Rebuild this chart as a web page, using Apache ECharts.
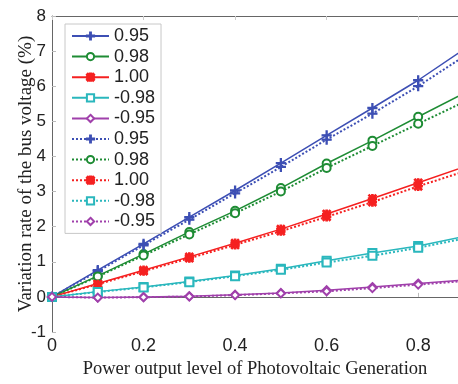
<!DOCTYPE html>
<html>
<head>
<meta charset="utf-8">
<script src="https://cdn.jsdelivr.net/npm/echarts@6/dist/echarts.min.js"></script>
<style>
  html, body { margin: 0; padding: 0; background: #fff; }
  #chart { width: 458px; height: 384px; }
</style>
</head>
<body>
<div id="chart"></div>
<script>
// Power factor labels (legend), x values (PV output level)
const pfLabels = ['0.95', '0.98', '1.00', '-0.98', '-0.95'];
const xLevels = [0, 0.1, 0.2, 0.3, 0.4, 0.5, 0.6, 0.7, 0.8, 0.9];

// Solid lines
const solid095 = [0, 0.76, 1.51, 2.27, 3.03, 3.81, 4.6, 5.38, 6.17, 7.05];
const solid098 = [0, 0.6, 1.22, 1.85, 2.45, 3.1, 3.8, 4.45, 5.13, 5.8];
const solid100 = [0, 0.38, 0.76, 1.14, 1.53, 1.93, 2.36, 2.8, 3.25, 3.7];
const solidN098 = [0, 0.15, 0.28, 0.44, 0.61, 0.8, 1.03, 1.25, 1.45, 1.72];
const solidN095 = [0, -0.02, 0.0, 0.02, 0.06, 0.11, 0.19, 0.28, 0.38, 0.48];

// Dotted lines
const dot095 = [0, 0.73, 1.47, 2.2, 2.95, 3.7, 4.48, 5.22, 6.0, 6.85];
const dot098 = [0, 0.58, 1.18, 1.78, 2.38, 3.0, 3.67, 4.3, 4.93, 5.55];
const dot100 = [0, 0.36, 0.73, 1.1, 1.48, 1.87, 2.28, 2.7, 3.15, 3.57];
const dotN098 = [0, 0.14, 0.27, 0.42, 0.59, 0.77, 0.98, 1.17, 1.4, 1.66];
const dotN095 = [0, -0.02, -0.01, 0.01, 0.05, 0.1, 0.16, 0.25, 0.35, 0.45];

const colors = ['#3d4fb4', '#1e8c34', '#f52020', '#2ab7bd', '#a040ab'];
const plusPath = 'path://M4.4,0H5.6V4.4H10V5.6H5.6V10H4.4V5.6H0V4.4H4.4Z';
const starPath = 'path://M4.1,0H5.9V4.1H10V5.9H5.9V10H4.1V5.9H0V4.1H4.1Z M1.3,0L5,3.7L8.7,0L10,1.3L6.3,5L10,8.7L8.7,10L5,6.3L1.3,10L0,8.7L3.7,5L0,1.3Z';
const markers = [plusPath, 'emptyCircle', starPath, 'emptyRect', 'emptyDiamond'];
const markerSizes = [9, 8, 8, 8, 8];

const solidSets = [solid095, solid098, solid100, solidN098, solidN095];
const dotSets = [dot095, dot098, dot100, dotN098, dotN095];

function makeSeries(name, values, i, dotted) {
  return {
    name: name,
    type: 'line',
    data: xLevels.map((x, k) => [x, values[k]]),
    symbol: markers[i],
    symbolSize: markerSizes[i],
    showAllSymbol: true,
    color: colors[i],
    itemStyle: { color: colors[i], borderColor: colors[i], borderWidth: 1.2 },
    lineStyle: { color: colors[i], width: dotted ? 2 : 1.5, type: dotted ? 'dotted' : 'solid' },
    emphasis: { disabled: true }
  };
}

const series = [];
pfLabels.forEach((lab, i) => series.push(makeSeries(lab, solidSets[i], i, false)));
// trailing space keeps the dotted names unique for the legend
pfLabels.forEach((lab, i) => series.push(makeSeries(lab + ' ', dotSets[i], i, true)));

const chart = echarts.init(document.getElementById('chart'));
chart.setOption({
  animation: false,
  backgroundColor: '#fff',
  grid: { left: 52, top: 16, right: 0, bottom: 44 },
  legend: {
    orient: 'vertical',
    left: 65,
    top: 24,
    data: series.map(s => s.name),
    formatter: n => n.trim(),
    itemWidth: 37,
    itemHeight: 9,
    itemGap: 2.6,
    padding: [3, 6, 3, 6],
    backgroundColor: '#fff',
    borderColor: '#c8c8c8',
    borderWidth: 1,
    selectedMode: false,
    textStyle: { fontFamily: 'Liberation Sans', fontSize: 18, lineHeight: 18, color: '#222' }
  },
  xAxis: [{
    type: 'value',
    min: 0,
    max: 0.887,
    interval: 0.2,
    name: 'Power output level of Photovoltaic Generation',
    nameLocation: 'middle',
    nameGap: 28,
    nameMoveOverlap: false,
    nameTextStyle: { fontFamily: 'Liberation Serif', fontSize: 18.5, color: '#222' },
    axisLine: { lineStyle: { color: '#666', width: 1 } },
    axisTick: { inside: true, length: 4, lineStyle: { color: '#bbb' } },
    axisLabel: {
      showMaxLabel: false,
      margin: 5,
      fontFamily: 'Liberation Sans', fontSize: 18, color: '#222',
      formatter: v => (v === 0 ? '0' : String(+v.toFixed(1)))
    },
    splitLine: { show: false }
  }, {
    type: 'value',
    position: 'top',
    min: 0,
    max: 0.887,
    interval: 0.2,
    axisLine: { show: true, onZero: false, lineStyle: { color: '#666', width: 1 } },
    axisTick: { inside: true, length: 4, lineStyle: { color: '#ccc' } },
    axisLabel: { show: false },
    splitLine: { show: false }
  }],
  yAxis: {
    type: 'value',
    min: -1,
    max: 8,
    interval: 1,
    name: 'Variation rate of the bus voltage (%)',
    nameLocation: 'middle',
    nameGap: 16,
    nameMoveOverlap: false,
    nameTextStyle: { fontFamily: 'Liberation Serif', fontSize: 19, color: '#222' },
    axisLine: { show: true, onZero: false, lineStyle: { color: '#666', width: 1 } },
    axisTick: { show: true, inside: true, length: 4, lineStyle: { color: '#bbb' } },
    axisLabel: { margin: 6, fontFamily: 'Liberation Sans', fontSize: 17, color: '#222' },
    splitLine: { show: false }
  },
  series: series
});
</script>
</body>
</html>
